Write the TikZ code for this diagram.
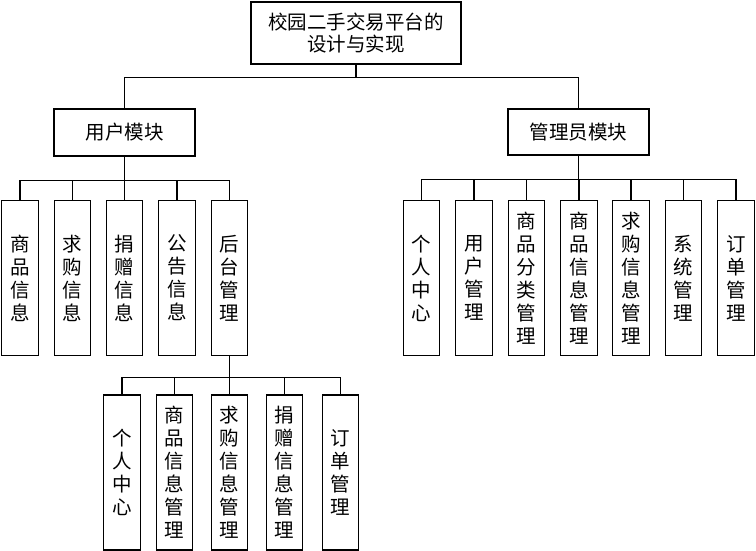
\documentclass[tikz,border=0pt]{standalone}
\usepackage{fontspec}
\setmainfont{Noto Sans CJK SC}
\begin{document}
\begin{tikzpicture}[x=1pt,y=-1pt,
  box/.style={draw,line width=1.1pt,inner sep=0pt,align=center,font=\fontsize{19.5}{21.5}\selectfont},
  vbox/.style={box,minimum width=36.5pt,minimum height=155pt,font=\fontsize{19.5}{23}\selectfont},
  link/.style={line width=1.1pt}]
\useasboundingbox (0,0) rectangle (756,551);
\node[box,minimum width=210pt,minimum height=62pt] (top) at (356,33) {校园二手交易平台的\\设计与实现};
\node[box,minimum width=141pt,minimum height=47pt] (user) at (124.5,132.5) {用户模块};
\node[box,minimum width=141pt,minimum height=46pt] (admin) at (578.5,132) {管理员模块};
% user children
\node[vbox] (u1) at (20,278) {商\\品\\信\\息};
\node[vbox] (u2) at (72.5,278) {求\\购\\信\\息};
\node[vbox] (u3) at (124.5,278) {捐\\赠\\信\\息};
\node[vbox] (u4) at (177,278) {公\\告\\信\\息};
\node[vbox] (u5) at (229.5,278) {后\\台\\管\\理};
% backend children
\node[vbox] (b1) at (122,472.5) {个\\人\\中\\心};
\node[vbox] (b2) at (174.5,472.5) {商\\品\\信\\息\\管\\理};
\node[vbox] (b3) at (229.5,472.5) {求\\购\\信\\息\\管\\理};
\node[vbox] (b4) at (284.5,472.5) {捐\\赠\\信\\息\\管\\理};
\node[vbox] (b5) at (340.5,472.5) {订\\单\\管\\理};
% admin children
\node[vbox] (a1) at (421.5,278) {个\\人\\中\\心};
\node[vbox] (a2) at (474,278) {用\\户\\管\\理};
\node[vbox] (a3) at (526.5,278) {商\\品\\分\\类\\管\\理};
\node[vbox] (a4) at (579,278) {商\\品\\信\\息\\管\\理};
\node[vbox] (a5) at (631,278) {求\\购\\信\\息\\管\\理};
\node[vbox] (a6) at (683.5,278) {系\\统\\管\\理};
\node[vbox] (a7) at (736,278) {订\\单\\管\\理};
% connectors
\foreach \n in {user,admin} \draw[link] (top.south) -- ++(0,13) -| (\n.north);
\foreach \n in {u1,u2,u3,u4,u5} \draw[link] (user.south) -- ++(0,24) -| (\n.north);
\foreach \n in {a1,a2,a3,a4,a5,a6,a7} \draw[link] (admin.south) -- ++(0,24) -| (\n.north);
\foreach \n in {b1,b2,b3,b4,b5} \draw[link] (u5.south) -- ++(0,21) -| (\n.north);
\end{tikzpicture}
\end{document}
